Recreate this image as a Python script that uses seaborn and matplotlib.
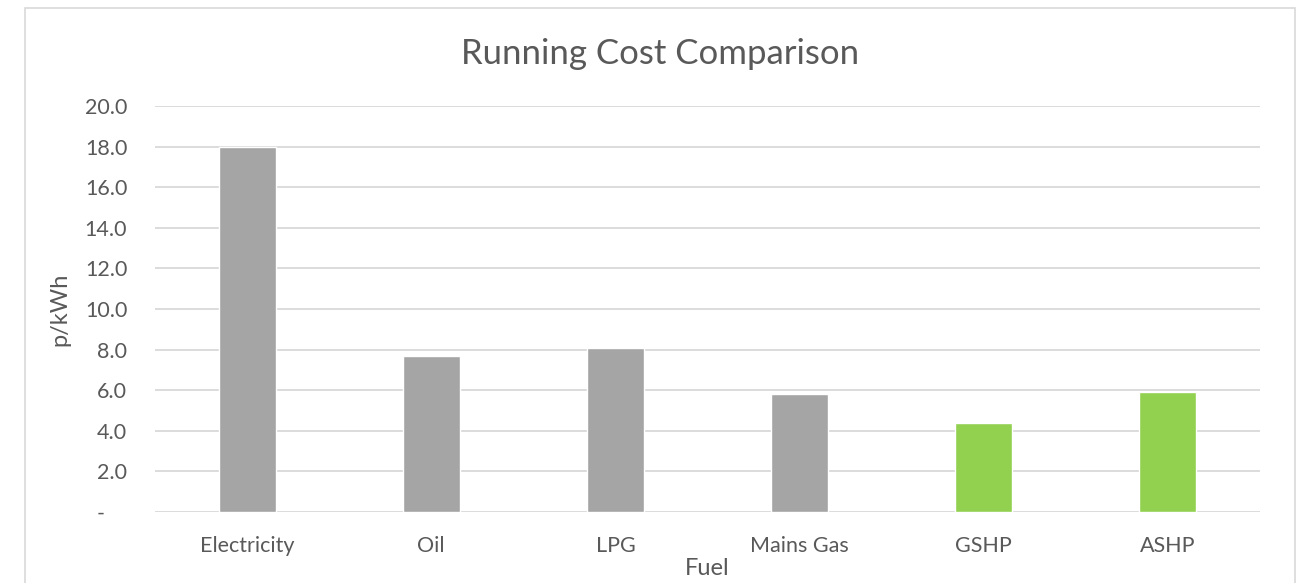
import matplotlib
matplotlib.use("Agg")
import matplotlib.pyplot as plt
import seaborn as sns
from matplotlib.patches import Rectangle
from matplotlib.ticker import FuncFormatter

# data
fuels = ["Electricity", "Oil", "LPG", "Mains Gas", "GSHP", "ASHP"]
cost = [18.0, 7.7, 8.1, 5.8, 4.4, 5.9]
bar_colors = ["#a5a5a5", "#a5a5a5", "#a5a5a5", "#a5a5a5", "#92d050", "#92d050"]

sns.set_style("white")
plt.rcParams["font.family"] = ["Lato", "DejaVu Sans"]

fig = plt.figure(figsize=(13.1, 5.83), dpi=100)
ax = fig.add_axes([0.1183, 0.1218, 0.8435, 0.6964])

sns.barplot(x=fuels, y=cost, hue=fuels, palette=bar_colors, legend=False,
            width=0.31, saturation=1, ax=ax)

ax.set_ylim(0, 20)
ax.set_yticks(range(0, 21, 2))
ax.yaxis.set_major_formatter(FuncFormatter(lambda v, p: "-    " if v == 0 else f"{v:.1f}"))
ax.grid(axis="y", color="#d9d9d9", linewidth=1.3)
ax.set_axisbelow(True)
for s in ax.spines.values():
    s.set_visible(False)
ax.tick_params(axis="both", length=0, labelsize=15.5, labelcolor="#595959")
ax.tick_params(axis="y", pad=20)
ax.tick_params(axis="x", pad=17)

ax.set_ylabel("p/kWh", fontsize=17, color="#595959", labelpad=10)
ax.set_xlabel("Fuel", fontsize=17, color="#595959", labelpad=2)
fig.text(0.504, 0.908, "Running Cost Comparison", ha="center", va="center",
         fontsize=25, color="#595959")

# chart border
fig.patches.append(Rectangle((25 / 1310, -0.01), 1270 / 1310, 1 - 8 / 583 + 0.01,
                             transform=fig.transFigure, fill=False,
                             edgecolor="#d9d9d9", linewidth=1.2))

fig.savefig("out.png", dpi=100)
